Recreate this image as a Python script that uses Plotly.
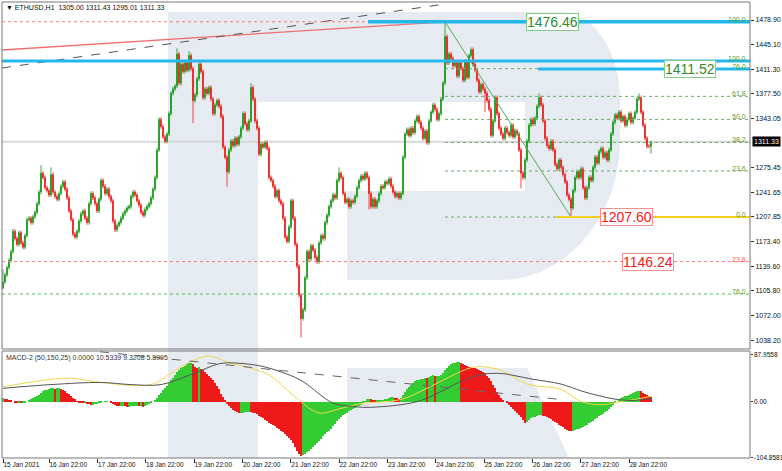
import plotly.graph_objects as go

# ---------------- data ----------------
CLOSES = [
    1118, 1128, 1138, 1148, 1160, 1188, 1178, 1170, 1186, 1172,
    1166, 1182, 1204, 1206, 1200, 1208, 1214, 1226, 1242, 1268,
    1262, 1248, 1244, 1238, 1266, 1242, 1236, 1232, 1240, 1250,
    1256, 1246, 1234, 1216, 1204, 1184, 1180, 1188, 1202, 1212,
    1216, 1206, 1200, 1226, 1240, 1234, 1226, 1216, 1232, 1258,
    1250, 1240, 1246, 1236, 1230, 1202, 1190, 1196, 1200, 1206,
    1212, 1216, 1220, 1222, 1236, 1242, 1238, 1230, 1224, 1214,
    1210, 1218, 1222, 1226, 1234, 1246, 1262, 1300, 1342, 1332,
    1318, 1312, 1322, 1350, 1378, 1384, 1388, 1432, 1392, 1418,
    1408, 1420, 1410, 1430, 1412, 1368, 1376, 1398, 1418, 1408,
    1372, 1384, 1378, 1386, 1370, 1350, 1362, 1368, 1360, 1346,
    1304, 1290, 1270, 1300, 1312, 1306, 1316, 1308, 1318, 1330,
    1350, 1336, 1328, 1340, 1386, 1370, 1340, 1330, 1294, 1308,
    1304, 1310, 1302, 1262, 1258, 1250, 1236, 1244, 1230, 1226,
    1206, 1180, 1174, 1194, 1230, 1206, 1170, 1140, 1100, 1068,
    1080, 1124, 1160, 1150, 1168, 1162, 1152, 1146, 1172, 1182,
    1178, 1200, 1210, 1222, 1230, 1238, 1234, 1258, 1268, 1262,
    1240, 1228, 1232, 1222, 1230, 1228, 1236, 1248, 1258, 1264,
    1260, 1268, 1262, 1240, 1222, 1232, 1222, 1230, 1240, 1250,
    1248, 1256, 1254, 1260, 1250, 1242, 1236, 1240, 1234, 1240,
    1290, 1322, 1328, 1320, 1330, 1324, 1340, 1346, 1338, 1330,
    1316, 1326, 1310, 1340, 1352, 1362, 1356, 1342, 1350, 1370,
    1392, 1456, 1420, 1432, 1426, 1416, 1420, 1402, 1420, 1412,
    1396, 1422, 1400, 1430, 1438, 1418, 1410, 1396, 1380, 1390,
    1384, 1378, 1368, 1356, 1320, 1340, 1372, 1350, 1330, 1322,
    1316, 1330, 1324, 1320, 1334, 1318, 1326, 1322, 1300, 1268,
    1262, 1286, 1312, 1334, 1342, 1336, 1344, 1360, 1372, 1362,
    1340, 1316, 1306, 1302, 1312, 1300, 1280, 1274, 1286, 1276,
    1266, 1256, 1238, 1232, 1220, 1244, 1262, 1270, 1262, 1274,
    1248, 1234, 1248, 1262, 1258, 1276, 1290, 1282, 1298, 1302,
    1290, 1296, 1286, 1300, 1322, 1338, 1348, 1344, 1352, 1340,
    1346, 1334, 1342, 1350, 1338, 1344, 1352, 1370, 1372, 1352,
    1334, 1316, 1305, 1305, 1311.33,
]
FIRST_OPEN = 1110.0
HIGH_MARKS = {0: 1136, 19: 1279, 24: 1276, 87: 1440, 93: 1436, 124: 1392,
              168: 1276, 221: 1476.46, 268: 1378, 318: 1378, 324: 1311.43}
LOW_MARKS = {0: 1108, 95: 1337, 112: 1249, 149: 1042, 183: 1218, 241: 1352,
             259: 1247, 284: 1207.60, 324: 1295.01}
WICK = 3

HIST = [
    6, 5, 4, 3, 2, 0, -1, -2, -2, -3,
    -3, -2, 0, 2, 4, 6, 8, 10, 13, 16,
    19, 21, 22, 24, 25, 25, 24, 25, 25, 24,
    22, 20, 17, 14, 10, 7, 4, 1, -1, -2,
    -3, -3, -4, -5, -6, -6, -5, -4, -2, -1,
    0, 1, 1, 0, -2, -4, -6, -8, -9, -9,
    -8, -9, -10, -10, -9, -8, -8, -8, -9, -9,
    -10, -9, -7, -5, -2, 0, 3, 7, 12, 17,
    21, 25, 30, 35, 40, 45, 50, 56, 60, 63,
    66, 68, 70, 72, 73, 70, 66, 64, 65, 62,
    59, 56, 52, 48, 45, 40, 35, 30, 24, 15,
    8, 2, -4, -9, -13, -16, -18, -20, -22, -22,
    -21, -20, -19, -19, -20, -21, -22, -24, -27, -29,
    -32, -34, -37, -40, -42, -45, -47, -50, -52, -55,
    -58, -62, -66, -69, -73, -79, -86, -93, -99, -103,
    -101, -99, -96, -93, -90, -86, -82, -78, -74, -70,
    -66, -62, -58, -55, -51, -47, -42, -37, -33, -29,
    -26, -23, -21, -18, -16, -14, -12, -10, -8, -6,
    -2, 1, 4, 5, 4, 3, 2, 2, 2, 3,
    3, 4, 5, 7, 8, 8, 7, 6, 5, 6,
    12, 18, 23, 28, 32, 35, 38, 40, 41, 42,
    43, 45, 44, 47, 49, 50, 48, 48, 49, 50,
    54, 60, 63, 67, 70, 72, 73, 74, 74, 73,
    71, 69, 67, 66, 65, 64, 63, 62, 60, 58,
    56, 53, 49, 44, 38, 32, 25, 18, 12, 6,
    3, 0, -3, -7, -10, -14, -18, -21, -25, -29,
    -34, -40, -38, -34, -32, -30, -29, -27, -26, -26,
    -27, -28, -29, -31, -33, -36, -39, -41, -44, -46,
    -49, -52, -53, -55, -56, -55, -54, -52, -51, -50,
    -48, -46, -44, -41, -39, -36, -33, -31, -28, -26,
    -23, -20, -17, -14, -10, -7, -3, 0, 3, 6,
    8, 10, 11, 13, 14, 16, 18, 19, 20, 19,
    17, 15, 13, 11, 9,
]

SIGNAL_X = [0, 24, 34, 49, 74, 84, 94, 103, 114, 124, 134, 144, 149, 154, 159,
            169, 179, 199, 212, 224, 234, 239, 249, 262, 279, 289, 299, 309, 319, 324]
SIGNAL_Y = [28, 42, 44, 36, 32, 53, 76, 86, 72, 63, 48, 15, 0, -15, -22,
            -13, -4, 4, 25, 48, 64, 66, 59, 33, 23, 0, -6, 0, 6, 10]
SLOW_X = [0, 24, 49, 64, 79, 94, 109, 119, 129, 139, 149, 165, 174, 182, 199,
          209, 219, 229, 239, 249, 257, 265, 279, 290, 299, 307, 315, 324]
SLOW_Y = [25, 32, 36, 32, 32, 51, 72, 72, 67, 56, 40, -3, -9, -11, -6,
          2, 19, 38, 51, 53, 48, 42, 33, 19, 10, 4, 2, 6]
MACD_TREND_X = [48.5, 278.5]
MACD_TREND_Y = [94, 4]

Y_TICKS = [1478.90, 1445.10, 1411.30, 1377.50, 1343.05, 1275.45, 1241.65,
           1207.85, 1173.40, 1139.60, 1105.80, 1072.00, 1038.20]
MACD_TICKS = [87.9558, 0.0, -104.8581]
MACD_TICK_TEXT = ["87.9558", "0.00", "-104.8581"]
X_TICK_TEXT = ["15 Jan 2021", "16 Jan 22:00", "17 Jan 22:00", "18 Jan 22:00",
               "19 Jan 22:00", "20 Jan 22:00", "21 Jan 22:00", "22 Jan 22:00",
               "23 Jan 22:00", "24 Jan 22:00", "25 Jan 22:00", "26 Jan 22:00",
               "27 Jan 22:00", "28 Jan 22:00"]
X_TICK_BARS = [0, 23, 47.2, 71.3, 95.5, 119.7, 143.9, 168.0, 192.2, 216.4,
               240.6, 264.7, 288.9, 313]

FIB_LOW, FIB_HIGH = 1207.60, 1476.46
FIB_LEVELS = [0.0, 23.6, 38.2, 50.0, 61.8, 76.0, 100.0]
FIB_START_BAR = 221
FIB_END_BAR = 284
LEVEL_1422 = 1422.4
LEVEL_1146 = 1146.24
LEVEL_1101 = 1101.6
LAST_PRICE = 1311.33
RED_TREND = ([-0.5, 221], [1437.6, 1476.46])
BLACK_TREND = ([-0.5, 221], [1412.8, 1500.9])

# ---------------- geometry ----------------
W, H = 782, 471
ML, MR, MT, MB = 2, 32, 2, 13
PW, PH = W - ML - MR, H - MT - MB
X_RANGE = [-0.5, 373.5]
MAIN_DOM = [(458 - 349) / PH, 1.0]
MACD_DOM = [0.0, (458 - 351) / PH]


def pp(px, py):
    return (px - ML) / PW, (H - MB - py) / PH


n = len(CLOSES)
opens = [FIRST_OPEN] + CLOSES[:-1]
highs = [HIGH_MARKS.get(i, max(opens[i], CLOSES[i]) + WICK) for i in range(n)]
lows = [LOW_MARKS.get(i, min(opens[i], CLOSES[i]) - WICK) for i in range(n)]
idx = list(range(n))

fig = go.Figure()

fig.add_trace(go.Candlestick(
    x=idx, open=opens, high=highs, low=lows, close=CLOSES,
    increasing=dict(line=dict(color="#159915", width=0.8), fillcolor="#159915"),
    decreasing=dict(line=dict(color="#EE1A1A", width=0.8), fillcolor="#EE1A1A"),
    xaxis="x", yaxis="y", showlegend=False, hoverinfo="skip"))

# trend lines on price panel
fig.add_trace(go.Scatter(x=RED_TREND[0], y=RED_TREND[1], mode="lines",
                         line=dict(color="#F07070", width=1.3),
                         xaxis="x", yaxis="y", showlegend=False, hoverinfo="skip"))
fig.add_trace(go.Scatter(x=BLACK_TREND[0], y=BLACK_TREND[1], mode="lines",
                         line=dict(color="#555555", width=1, dash="dash"),
                         xaxis="x", yaxis="y", showlegend=False, hoverinfo="skip"))
fig.add_trace(go.Scatter(x=[FIB_START_BAR, FIB_END_BAR], y=[FIB_HIGH, FIB_LOW],
                         mode="lines", line=dict(color="#55AA55", width=1),
                         xaxis="x", yaxis="y", showlegend=False, hoverinfo="skip"))

# MACD histogram
hcol = ["#33CC33" if (i == 0 or HIST[i] >= HIST[i - 1]) else "#EE1A1A" for i in range(n)]
fig.add_trace(go.Bar(x=idx, y=HIST, width=0.5, marker=dict(color=hcol, line=dict(width=0)),
                     xaxis="x", yaxis="y2", showlegend=False, hoverinfo="skip"))
fig.add_trace(go.Scatter(x=SIGNAL_X, y=SIGNAL_Y, mode="lines", line=dict(color="#F2D64B", width=1),
                         line_shape="spline", xaxis="x", yaxis="y2", showlegend=False, hoverinfo="skip"))
fig.add_trace(go.Scatter(x=SLOW_X, y=SLOW_Y, mode="lines", line=dict(color="#555555", width=1),
                         line_shape="spline", xaxis="x", yaxis="y2", showlegend=False, hoverinfo="skip"))
fig.add_trace(go.Scatter(x=MACD_TREND_X, y=MACD_TREND_Y, mode="lines",
                         line=dict(color="#666666", width=1, dash="dash"),
                         xaxis="x", yaxis="y2", showlegend=False, hoverinfo="skip"))

shapes = []
WM = "#E6EAF1"
# watermark "R"
x0, y0 = pp(168, 12); x1, y1 = pp(258, 458)
shapes.append(dict(type="rect", xref="paper", yref="paper", x0=x0, y0=y1, x1=x1, y1=y0,
                   fillcolor=WM, line=dict(width=0), layer="below"))
pts = [("M", [(258, 12)]), ("L", [(560, 12)]), ("C", [(593, 12), (620, 50), (620, 100)]),
       ("L", [(620, 140)]), ("C", [(620, 217), (566, 280), (500, 280)]),
       ("L", [(347, 280)]), ("L", [(347, 191)]), ("L", [(525, 191)]),
       ("L", [(525, 102)]), ("L", [(258, 102)])]
path = ""
for cmd, ps in pts:
    path += cmd + " " + " ".join("%.5f,%.5f" % pp(a, b) for a, b in ps) + " "
path += "Z"
shapes.append(dict(type="path", xref="paper", yref="paper", path=path,
                   fillcolor=WM, line=dict(width=0), layer="below"))
leg = [(347, 368), (527, 368), (569, 458), (347, 458)]
path = "M " + " L ".join("%.5f,%.5f" % pp(a, b) for a, b in leg) + " Z"
shapes.append(dict(type="path", xref="paper", yref="paper", path=path,
                   fillcolor=WM, line=dict(width=0), layer="below"))

# bid line
shapes.append(dict(type="line", xref="paper", yref="y", x0=0, x1=1, y0=LAST_PRICE, y1=LAST_PRICE,
                   line=dict(color="#D8D8D8", width=2), layer="below"))


def hline(y, x0=None, color="#000", width=1, dash=None, layer="above"):
    d = dict(type="line", yref="y", y0=y, y1=y, line=dict(color=color, width=width), layer=layer)
    if dash:
        d["line"]["dash"] = dash
    if x0 is None:
        d.update(xref="paper", x0=0, x1=1)
    else:
        d.update(xref="x", x0=x0, x1=X_RANGE[1])
    shapes.append(d)


GREEN_DOT = "#5DB85D"
hline(FIB_HIGH, color="#F08080", dash="dot")
hline(LEVEL_1146, color="#F08080", dash="dot")
hline(LEVEL_1101, color=GREEN_DOT, dash="dot")
for lv in FIB_LEVELS:
    hline(FIB_LOW + lv / 100 * (FIB_HIGH - FIB_LOW), x0=FIB_START_BAR, color=GREEN_DOT, dash="dot")
BLUE = "#22B8EE"
hline(FIB_HIGH, x0=182.5, color=BLUE, width=3.5)
hline(LEVEL_1422, color=BLUE, width=3)
hline(1411.52, x0=267.5, color=BLUE, width=3)
hline(FIB_LOW, x0=276, color="#F5D020", width=2)

# panel borders
for dom in (MAIN_DOM, MACD_DOM):
    shapes.append(dict(type="rect", xref="paper", yref="paper", x0=0, x1=1, y0=dom[0], y1=dom[1],
                       line=dict(color="#777777", width=1), layer="above"))

ann = []
FONT = "Liberation Sans"
ann.append(dict(xref="paper", yref="paper", x=0, y=1, xanchor="left", yanchor="top", xshift=2, yshift=0,
                text="▼ ETHUSD,H1  1305.00 1311.43 1295.01 1311.33", showarrow=False,
                font=dict(family=FONT, size=7, color="#111")))
ann.append(dict(xref="paper", yref="paper", x=0, y=MACD_DOM[1], xanchor="left", yanchor="top",
                xshift=2, yshift=-1, text="MACD-2 (50,150,25) 0.0000 10.5339 9.3208 5.8995",
                showarrow=False, font=dict(family=FONT, size=7, color="#333")))


def flabel(y, text, color):
    ann.append(dict(xref="paper", yref="y", x=1, y=y, xanchor="right", yanchor="bottom",
                    xshift=-2, yshift=-3, text=text, showarrow=False,
                    font=dict(family=FONT, size=7, color=color)))


for lv in FIB_LEVELS:
    flabel(FIB_LOW + lv / 100 * (FIB_HIGH - FIB_LOW), "%.1f" % lv, "#4AA04A")
flabel(LEVEL_1422, "100.0", "#4AA04A")
flabel(LEVEL_1146, "23.6", "#F06060")
flabel(LEVEL_1101, "76.0", "#4AA04A")


def box(xb, y, text, color, border):
    ann.append(dict(xref="x", yref="y", x=xb, y=y, text=text, showarrow=False,
                    font=dict(family=FONT, size=14, color=color), bgcolor="white",
                    bordercolor=border, borderwidth=1, borderpad=0))


box(274.5, 1476.46, "1476.46", "#2E8B2E", "#88C888")
box(343.5, 1411.52, "1411.52", "#2E8B2E", "#88C888")
box(311.5, 1207.60, "1207.60", "#F02020", "#F09090")
box(322.5, 1146.24, "1146.24", "#F02020", "#F09090")

ann.append(dict(xref="paper", yref="y", x=1, y=LAST_PRICE, xanchor="left", xshift=2,
                text="1311.33", showarrow=False, bgcolor="#000000", borderpad=1,
                font=dict(family=FONT, size=7, color="white")))

# MACD axis labels (kept inside the canvas)
for v, t in zip(MACD_TICKS, MACD_TICK_TEXT):
    ann.append(dict(xref="paper", yref="y2", x=1, y=v, xanchor="left", xshift=2,
                    yanchor="middle", text=t, showarrow=False,
                    font=dict(family=FONT, size=6.5, color="#111")))

fig.update_layout(
    width=W, height=H, margin=dict(l=ML, r=MR, t=MT, b=MB, autoexpand=False),
    paper_bgcolor="white", plot_bgcolor="white", showlegend=False,
    shapes=shapes, annotations=ann, bargap=0,
    xaxis=dict(domain=[0, 1], anchor="y2", range=X_RANGE, showgrid=False, zeroline=False,
               tickvals=X_TICK_BARS, ticktext=X_TICK_TEXT, ticks="outside", ticklen=4,
               tickcolor="#333", ticklabelposition="outside right", tickangle=0,
               tickfont=dict(family=FONT, size=6.5, color="#111"), automargin=False,
               rangeslider=dict(visible=False), showline=False, fixedrange=True),
    yaxis=dict(domain=MAIN_DOM, anchor="x", side="right", range=[1025.9, 1503.7],
               tickvals=Y_TICKS, ticktext=["%.2f" % v for v in Y_TICKS],
               ticks="outside", ticklen=3, tickcolor="#333", showgrid=False, zeroline=False,
               tickfont=dict(family=FONT, size=7, color="#111"), automargin=False),
    yaxis2=dict(domain=MACD_DOM, anchor="x", side="right", range=[-106.75, 95.5],
                tickvals=MACD_TICKS, showticklabels=False,
                ticks="outside", ticklen=2, tickcolor="#333", showgrid=False, zeroline=False,
                automargin=False),
)

fig.write_html("out.html", config={"displayModeBar": False},
               post_script="document.body.style.margin='0';document.body.style.overflow='hidden';")
